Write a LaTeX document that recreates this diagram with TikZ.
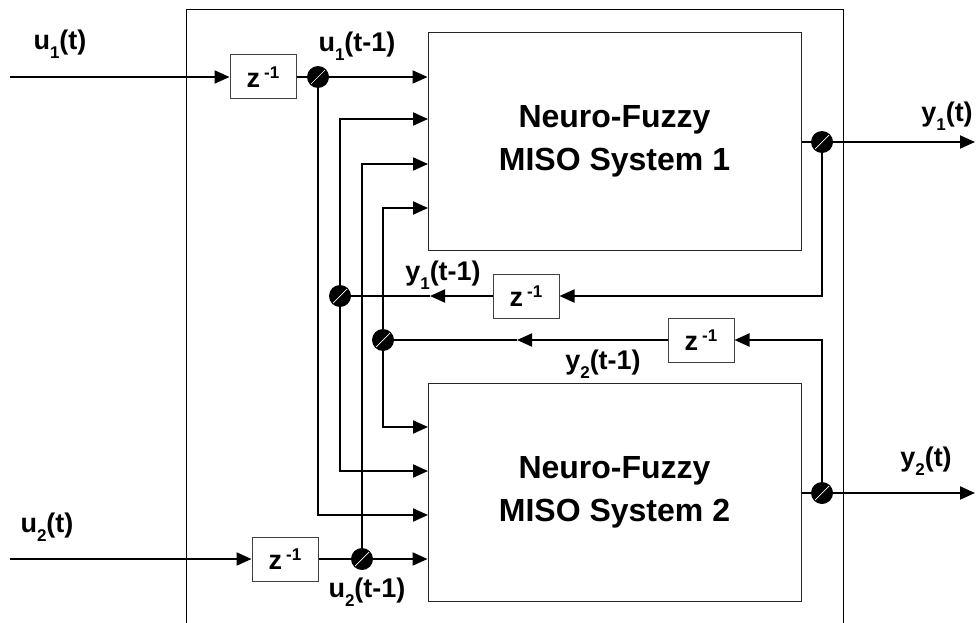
\documentclass[tikz,border=0pt]{standalone}
\usepackage{fontspec}
\setmainfont{Liberation Sans}
\usetikzlibrary{arrows.meta,positioning,calc}

\newcommand{\lsub}[1]{\raisebox{-9pt}{\fontsize{17}{17}\selectfont #1}}
\newcommand{\zinv}{z\hspace{4pt}\raisebox{9pt}{\fontsize{17}{17}\selectfont -1}}

\tikzset{
  wire/.style={line width=2pt},
  sig/.style={wire, -{Triangle[length=15pt,width=13pt]}},
  delay/.style={draw=black!75, line width=1pt, fill=white, minimum width=66pt,
    minimum height=44pt, inner sep=0pt, font=\bfseries\fontsize{27}{27}\selectfont},
  miso/.style={draw=black!85, line width=1pt, fill=white, minimum width=373pt,
    minimum height=218pt, align=center, font=\bfseries\fontsize{32}{43}\selectfont},
  junc/.style={circle, fill=black, minimum size=22pt, inner sep=0pt,
    path picture={\draw[white, line width=0.7pt]
      ([shift={(-7pt,-7pt)}]path picture bounding box.center) --
      ([shift={(7pt,7pt)}]path picture bounding box.center);}},
  lbl/.style={font=\bfseries\fontsize{27}{27}\selectfont, inner sep=0pt}
}

\begin{document}
\begin{tikzpicture}[x=1pt, y=-1pt]
  \useasboundingbox (0,0) rectangle (979,623);

  % frame
  \draw[line width=1pt] (186,623) -- (186,10) -- (843,10) -- (843,623);

  % blocks
  \node[miso] (sys1) at (614.5,141.5) {Neuro-Fuzzy\\MISO System 1};
  \node[miso] (sys2) at (614.5,492.5) {Neuro-Fuzzy\\MISO System 2};
  \node[delay] (d_u1) at (263,77) {\zinv};
  \node[delay] (d_u2) at (285,559) {\zinv};
  \node[delay] (d_y1) at (526,296) {\zinv};
  \node[delay] (d_y2) at (701,340) {\zinv};

  % junctions
  \node[junc] (j_u1) at (318,77) {};
  \node[junc] (j_u2) at (362,559) {};
  \node[junc] (j_y1) at (340,296) {};
  \node[junc] (j_y2) at (383,340) {};
  \node[junc] (j_o1) at (822,142) {};
  \node[junc] (j_o2) at (822,493) {};

  % free ends and ports
  \coordinate (u1in) at (10,77);
  \coordinate (u2in) at (10,559);
  \coordinate (y1out) at (975,142);
  \coordinate (y2out) at (975,493);
  \coordinate (p1b) at (428,119);
  \coordinate (p1c) at (428,164);
  \coordinate (p1d) at (428,208);
  \coordinate (p2a) at (428,427);
  \coordinate (p2b) at (428,471);
  \coordinate (p2c) at (428,515);
  \coordinate (mid1) at (430,296);
  \coordinate (mid2) at (517,340);

  % inputs
  \draw[sig] (u1in) -- (d_u1);
  \draw[wire] (d_u1) -- (j_u1);
  \draw[sig] (j_u1) -- (j_u1 -| sys1.west);
  \draw[sig] (j_u1) |- (p2c);
  \draw[sig] (u2in) -- (d_u2);
  \draw[wire] (d_u2) -- (j_u2);
  \draw[sig] (j_u2) -- (j_u2 -| sys2.west);
  \draw[sig] (j_u2) |- (p1c);

  % feedback
  \draw[sig] (j_y1) |- (p1b);
  \draw[sig] (j_y1) |- (p2b);
  \draw[sig] (j_y2) |- (p1d);
  \draw[sig] (j_y2) |- (p2a);
  \draw[sig] (j_o1) |- (d_y1);
  \draw[sig] (d_y1) -- (mid1);
  \draw[wire] (mid1) -- (j_y1);
  \draw[sig] (j_o2) |- (d_y2);
  \draw[sig] (d_y2) -- (mid2);
  \draw[wire] (mid2) -- (j_y2);

  % outputs
  \draw[wire] (sys1.east |- j_o1) -- (j_o1);
  \draw[sig] (j_o1) -- (y1out);
  \draw[wire] (sys2.east |- j_o2) -- (j_o2);
  \draw[sig] (j_o2) -- (y2out);

  % labels
  \node[lbl] (l_u1) at (60,44) {u\lsub{1}(t)};
  \node[lbl] (l_u2) at (47,527) {u\lsub{2}(t)};
  \node[lbl] (l_u1d) at (357,46) {u\lsub{1}(t-1)};
  \node[lbl] (l_u2d) at (367,592) {u\lsub{2}(t-1)};
  \node[lbl] (l_y1d) at (443,275) {y\lsub{1}(t-1)};
  \node[lbl] (l_y2d) at (603,364) {y\lsub{2}(t-1)};
  \node[lbl] (l_y1) at (947,116) {y\lsub{1}(t)};
  \node[lbl] (l_y2) at (926,461) {y\lsub{2}(t)};
\end{tikzpicture}
\end{document}
